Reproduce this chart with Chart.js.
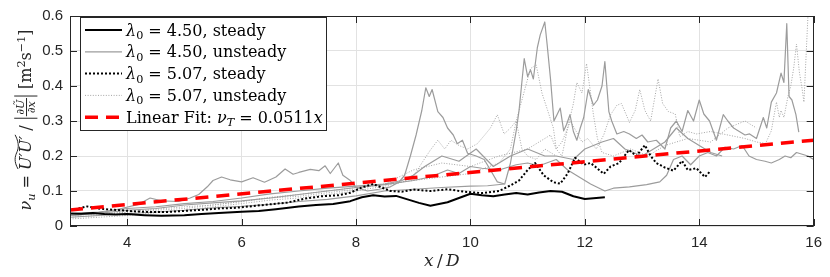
<!DOCTYPE html>
<html>
<head>
<meta charset="utf-8">
<script src="https://cdn.jsdelivr.net/npm/chart.js@4.4.1/dist/chart.umd.min.js"></script>
<style>
  html, body { margin: 0; padding: 0; background: #fff; }
  #wrap { width: 830px; height: 277px; }
</style>
</head>
<body>
<div id="wrap"><canvas id="chart" width="830" height="277"></canvas></div>
<script>
// axis ticks
const xTicks = [4, 6, 8, 10, 12, 14, 16];
const yTicks = [0, 0.1, 0.2, 0.3, 0.4, 0.5, 0.6];

// linear fit (end points)
const fitX = [3, 16];
const fitY = [0.046, 0.245];

// lambda0 = 4.50, steady
const xSteady450 = [3.0,3.2,3.4,3.6,3.8,4.0,4.3,4.6,5.0,5.3,5.6,6.0,6.3,6.6,7.0,7.3,7.6,7.9,8.1,8.3,8.5,8.7,8.9,9.1,9.3,9.45,9.6,9.8,10.0,10.2,10.4,10.6,10.8,11.0,11.2,11.4,11.6,11.8,12.0,12.2,12.35];
const ySteady450 = [0.036,0.035,0.037,0.034,0.033,0.034,0.031,0.029,0.031,0.034,0.037,0.041,0.043,0.048,0.056,0.06,0.063,0.071,0.082,0.088,0.084,0.086,0.076,0.066,0.058,0.063,0.068,0.08,0.092,0.088,0.085,0.09,0.094,0.09,0.096,0.1,0.098,0.085,0.077,0.08,0.082];

// lambda0 = 5.07, steady
const xSteady507 = [3.15,3.3,3.5,3.7,3.9,4.1,4.4,4.7,5.0,5.3,5.6,5.9,6.2,6.5,6.8,7.1,7.4,7.7,7.9,8.1,8.3,8.45,8.6,8.8,9.0,9.3,9.6,9.9,10.2,10.5,10.7,10.85,11.0,11.13,11.28,11.45,11.57,11.7,11.83,11.98,12.1,12.2,12.33,12.45,12.6,12.77,12.9,13.05,13.15,13.25,13.4,13.55,13.7,13.8,13.95,14.1,14.2];
const ySteady507 = [0.05,0.056,0.05,0.047,0.045,0.042,0.04,0.04,0.043,0.046,0.05,0.052,0.057,0.062,0.067,0.078,0.085,0.088,0.095,0.11,0.12,0.11,0.1,0.098,0.104,0.1,0.105,0.098,0.094,0.1,0.116,0.13,0.16,0.18,0.145,0.125,0.121,0.15,0.195,0.175,0.18,0.167,0.149,0.17,0.18,0.217,0.2,0.231,0.2,0.18,0.167,0.158,0.186,0.16,0.165,0.14,0.158];

// lambda0 = 4.50, unsteady (several runs)
const xUns450a = [3.0,3.3,3.6,3.9,4.2,4.4,4.6,4.9,5.1,5.25,5.4,5.5,5.65,5.8,6.0,6.2,6.4,6.6,6.76,6.9,7.0,7.2,7.35,7.46,7.55,7.69,7.77,7.9,8.0,8.2,8.4,8.6,8.75,8.85,8.95,9.05,9.15,9.22,9.28,9.33,9.43,9.52,9.6,9.7,9.77,9.86,9.95,10.1,10.24,10.35,10.47,10.6];
const yUns450a = [0.03,0.034,0.04,0.05,0.062,0.08,0.072,0.07,0.08,0.09,0.112,0.13,0.14,0.132,0.126,0.138,0.125,0.14,0.163,0.148,0.153,0.162,0.158,0.172,0.15,0.18,0.145,0.13,0.11,0.1,0.105,0.112,0.125,0.145,0.2,0.26,0.33,0.395,0.37,0.39,0.327,0.31,0.28,0.26,0.235,0.245,0.208,0.2,0.19,0.16,0.126,0.12];
const xUns450b = [3.0,3.5,4.0,4.5,5.0,5.5,6.0,6.5,7.0,7.5,8.0,8.5,9.0,9.5,10.0,10.3,10.6,10.7,10.8,10.85,10.94,11.0,11.05,11.1,11.17,11.22,11.3,11.34,11.4,11.46,11.52,11.57,11.63,11.68,11.74,11.8,11.86,11.92,11.98,12.06,12.15,12.22,12.3,12.35,12.42,12.47,12.56,12.68,12.78,12.9,13.0,13.1,13.25,13.4,13.5,13.6,13.7,13.8,13.9,14.0,14.08,14.18,14.3,14.42,14.5,14.6,14.7,14.8,14.88,15.0,15.12,15.18,15.26,15.35,15.43,15.48,15.53,15.57,15.62,15.69,15.74];
const yUns450b = [0.025,0.03,0.035,0.04,0.045,0.052,0.056,0.062,0.07,0.076,0.086,0.1,0.105,0.11,0.114,0.115,0.12,0.18,0.272,0.33,0.478,0.427,0.446,0.42,0.51,0.546,0.583,0.52,0.42,0.3,0.32,0.337,0.272,0.29,0.318,0.27,0.245,0.28,0.31,0.39,0.345,0.36,0.4,0.47,0.327,0.3,0.263,0.27,0.263,0.25,0.26,0.24,0.245,0.22,0.28,0.3,0.27,0.33,0.3,0.36,0.32,0.3,0.245,0.318,0.3,0.28,0.27,0.26,0.263,0.25,0.31,0.28,0.354,0.38,0.437,0.41,0.578,0.37,0.36,0.318,0.268];
const xUns450c = [3.0,3.5,4.0,4.5,5.0,5.5,6.0,6.5,7.0,7.5,8.0,8.5,9.0,9.3,9.6,9.8,10.0,10.2,10.5,10.8,11.0,11.2,11.5,11.7,11.9,12.1,12.35,12.5,12.78,13.08,13.31,13.43,13.55,13.7,13.85,14.0,14.15,14.3,14.45,14.6,14.75,14.87,15.0,15.15,15.26,15.4,15.5,15.6,15.7,15.8,15.9,16.0];
const yUns450c = [0.03,0.036,0.045,0.05,0.06,0.066,0.072,0.08,0.09,0.1,0.11,0.118,0.13,0.14,0.16,0.15,0.17,0.165,0.16,0.175,0.18,0.172,0.19,0.16,0.14,0.12,0.1,0.108,0.112,0.118,0.126,0.145,0.19,0.2,0.175,0.2,0.21,0.2,0.225,0.22,0.23,0.2,0.19,0.185,0.18,0.19,0.2,0.195,0.21,0.205,0.2,0.19];
const xUns450d = [3.0,3.5,4.0,4.5,5.0,5.5,6.0,6.5,7.0,7.5,8.0,8.5,8.8,9.0,9.2,9.5,9.8,10.1,10.4,10.7,11.0,11.3,11.5,11.8,12.0,12.3,12.5,12.7,13.0,13.2,13.4,13.6,13.8,14.0,14.2,14.4];
const yUns450d = [0.035,0.04,0.05,0.055,0.064,0.07,0.08,0.092,0.1,0.108,0.114,0.12,0.13,0.145,0.17,0.2,0.185,0.22,0.17,0.2,0.22,0.2,0.2,0.19,0.22,0.24,0.25,0.22,0.2,0.22,0.24,0.28,0.25,0.23,0.21,0.2];

// lambda0 = 5.07, unsteady (several runs)
const xUns507a = [3.0,3.5,4.0,4.5,5.0,5.5,6.0,6.5,7.0,7.5,8.0,8.5,8.8,9.0,9.15,9.3,9.43,9.55,9.66,9.8,9.95,10.12,10.25,10.35,10.47,10.59,10.7,10.8,10.9,11.0,11.15,11.3,11.5];
const yUns507a = [0.02,0.025,0.03,0.038,0.045,0.055,0.064,0.074,0.08,0.09,0.1,0.114,0.125,0.14,0.18,0.217,0.245,0.22,0.245,0.23,0.22,0.235,0.26,0.28,0.318,0.263,0.28,0.3,0.22,0.2,0.19,0.22,0.2];
const xUns507b = [3.0,3.5,4.0,4.5,5.0,5.5,6.0,6.5,7.0,7.5,8.0,8.5,9.0,9.5,10.0,10.5,10.7,10.8,10.9,11.0,11.05,11.15,11.25,11.35,11.45,11.5,11.6,11.75,11.85,11.95,12.05,12.2,12.33,12.45,12.56,12.64,12.78,12.88,12.96,13.05,13.15,13.28,13.36,13.46,13.58,13.66,13.8,13.95,14.2,14.5,14.8,15.0,15.16,15.26,15.35,15.4,15.43,15.48,15.55,15.6,15.65,15.7,15.75,15.8,15.83,15.9];
const yUns507b = [0.025,0.03,0.04,0.045,0.05,0.06,0.07,0.08,0.085,0.095,0.105,0.12,0.13,0.14,0.15,0.18,0.22,0.3,0.36,0.42,0.45,0.46,0.38,0.33,0.28,0.22,0.24,0.3,0.27,0.24,0.25,0.22,0.26,0.318,0.345,0.35,0.296,0.33,0.39,0.33,0.3,0.42,0.35,0.327,0.32,0.255,0.27,0.263,0.27,0.26,0.25,0.24,0.236,0.272,0.354,0.31,0.33,0.31,0.37,0.4,0.45,0.52,0.44,0.39,0.354,0.6];
const xUns507c = [3.0,3.5,4.0,4.5,5.0,5.5,6.0,6.5,7.0,7.5,8.0,8.5,9.0,9.5,10.0,10.5,11.0,11.2,11.4,11.5,11.6,11.7,11.8,11.86,11.95,12.03,12.1,12.15,12.22,12.3,12.5,12.8,13.1,13.4,13.8,14.2,14.5,14.8,15.0];
const yUns507c = [0.03,0.035,0.04,0.048,0.055,0.06,0.07,0.082,0.09,0.1,0.11,0.12,0.16,0.18,0.17,0.2,0.22,0.24,0.26,0.22,0.2,0.28,0.35,0.41,0.38,0.464,0.38,0.318,0.25,0.21,0.2,0.22,0.2,0.23,0.25,0.24,0.28,0.3,0.28];

const serif = "'DejaVu Serif', 'Liberation Serif', serif";
const sans = "'Liberation Sans', Arial, sans-serif";
const axisColor = '#262626';

const pts = (xs, ys) => xs.map((x, i) => ({ x: x, y: ys[i] }));

const greySolid = { borderColor: '#9c9c9c', borderWidth: 1.2, borderDash: [] };
const greyDot = { borderColor: '#a4a4a4', borderWidth: 1, borderDash: [1, 1.6] };

const datasets = [
    { key: 'fit', data: pts(fitX, fitY), borderColor: '#ff0000', borderWidth: 3.5, borderDash: [13, 8], order: 0 },
    { key: 's450', data: pts(xSteady450, ySteady450), borderColor: '#000000', borderWidth: 2, borderDash: [], order: 1 },
    { key: 's507', data: pts(xSteady507, ySteady507), borderColor: '#000000', borderWidth: 2, borderDash: [2, 2], order: 1 },
    { key: 'u450', data: pts(xUns450a, yUns450a), ...greySolid, order: 2 },
    { data: pts(xUns450b, yUns450b), ...greySolid, order: 2 },
    { data: pts(xUns450c, yUns450c), ...greySolid, order: 2 },
    { data: pts(xUns450d, yUns450d), ...greySolid, order: 2 },
    { key: 'u507', data: pts(xUns507a, yUns507a), ...greyDot, order: 2 },
    { data: pts(xUns507b, yUns507b), ...greyDot, order: 2 },
    { data: pts(xUns507c, yUns507c), ...greyDot, order: 2 },
];

// legend entries: dataset key + text runs
const legendEntries = [
    ['s450', [{ t: 'λ', it: true }, { t: '0', sub: true }, { t: ' = 4.50, steady' }]],
    ['u450', [{ t: 'λ', it: true }, { t: '0', sub: true }, { t: ' = 4.50, unsteady' }]],
    ['s507', [{ t: 'λ', it: true }, { t: '0', sub: true }, { t: ' = 5.07, steady' }]],
    ['u507', [{ t: 'λ', it: true }, { t: '0', sub: true }, { t: ' = 5.07, unsteady' }]],
    ['fit', [{ t: 'Linear Fit: ' }, { t: 'ν', it: true }, { t: 'T', it: true, sub: true }, { t: ' = 0.0511' }, { t: 'x', it: true }]],
];

const yLabelRuns = [
    { t: 'ν', it: true }, { t: 'u', it: true, sub: true }, { t: ' = ' },
    { t: 'U′U′', it: true, tilde: true }, { t: ' / ' },
    { bar: true }, { frac: ['∂Ũ', '∂x'] }, { bar: true },
    { t: ' [m' }, { t: '2', sup: true }, { t: 's' }, { t: '−1', sup: true }, { t: ']' }
];

function runs(ctx, list, size, x, y, draw) {
    let cx = x;
    list.forEach(r => {
        if (r.bar) {
            if (draw) {
                ctx.fillRect(cx + 1.5, y - size * 1.05, 1, size * 1.45);
            }
            cx += 4;
            return;
        }
        if (r.frac) {
            const fs = size * 0.7;
            ctx.font = `italic ${fs}px ${serif}`;
            const w = Math.max(ctx.measureText(r.frac[0]).width, ctx.measureText(r.frac[1]).width) + 3;
            if (draw) {
                const axis = y - size * 0.28;
                ctx.textAlign = 'center';
                ctx.fillText(r.frac[0], cx + w / 2, axis - 2.5);
                ctx.fillText(r.frac[1], cx + w / 2, axis + fs * 0.78);
                ctx.fillRect(cx, axis - 0.5, w, 1);
                ctx.textAlign = 'left';
            }
            cx += w;
            return;
        }
        const fs = (r.sub || r.sup) ? size * 0.7 : size;
        ctx.font = `${r.it ? 'italic ' : ''}${fs}px ${serif}`;
        const w = ctx.measureText(r.t).width;
        const dy = r.sub ? size * 0.22 : r.sup ? -size * 0.4 : 0;
        if (draw) {
            ctx.fillText(r.t, cx, y + dy);
            if (r.tilde) {
                const yt = y - size * 0.9;
                ctx.beginPath();
                ctx.moveTo(cx + 1, yt + 1.5);
                ctx.bezierCurveTo(cx + w * 0.25, yt - 3, cx + w * 0.4, yt - 1.5, cx + w * 0.5, yt);
                ctx.bezierCurveTo(cx + w * 0.6, yt + 1.5, cx + w * 0.75, yt + 3.5, cx + w + 1, yt - 1.5);
                ctx.lineWidth = 1;
                ctx.stroke();
            }
        }
        cx += w;
    });
    return cx - x;
}

const decorPlugin = {
    id: 'decor',
    afterDraw(chart) {
        const ctx = chart.ctx;
        const a = chart.chartArea;
        const xs = chart.scales.x, ys = chart.scales.y;
        ctx.save();

        // axes box + inward ticks
        ctx.strokeStyle = axisColor;
        ctx.lineWidth = 1;
        ctx.strokeRect(Math.round(a.left) + 0.5, Math.round(a.top) + 0.5, Math.round(a.right - a.left) - 1, Math.round(a.bottom - a.top) - 1);
        ctx.beginPath();
        xTicks.forEach(v => {
            const px = Math.round(xs.getPixelForValue(v)) + 0.5;
            ctx.moveTo(px, a.bottom); ctx.lineTo(px, a.bottom - 7);
            ctx.moveTo(px, a.top); ctx.lineTo(px, a.top + 7);
        });
        yTicks.forEach(v => {
            const py = Math.round(ys.getPixelForValue(v)) + 0.5;
            ctx.moveTo(a.left, py); ctx.lineTo(a.left + 7, py);
            ctx.moveTo(a.right, py); ctx.lineTo(a.right - 7, py);
        });
        ctx.stroke();

        // legend box
        const lx = 80.5, ly = 17.5, lw = 246, lh = 113;
        ctx.fillStyle = '#fff';
        ctx.fillRect(lx, ly, lw, lh);
        ctx.strokeStyle = axisColor;
        ctx.strokeRect(lx, ly, lw, lh);
        legendEntries.forEach(([key, list], i) => {
            const ds = chart.data.datasets.find(d => d.key === key);
            const cy = 30 + i * 21.8;
            ctx.save();
            ctx.strokeStyle = ds.borderColor;
            ctx.lineWidth = ds.borderWidth;
            ctx.setLineDash(ds.borderDash || []);
            ctx.beginPath();
            ctx.moveTo(85, cy); ctx.lineTo(122, cy);
            ctx.stroke();
            ctx.restore();
            ctx.fillStyle = '#000';
            runs(ctx, list, 16, 126, cy + 5.5, true);
        });

        // y axis title (rotated)
        ctx.fillStyle = axisColor;
        ctx.strokeStyle = axisColor;
        const size = 16;
        const w = runs(ctx, yLabelRuns, size, 0, 0, false);
        ctx.translate(31, 120);
        ctx.rotate(-Math.PI / 2);
        runs(ctx, yLabelRuns, size, -w / 2, 0, true);
        ctx.restore();

        // x axis title
        ctx.save();
        ctx.fillStyle = axisColor;
        const xl = [{ t: 'x', it: true }, { t: '\u2009/\u2009' }, { t: 'D', it: true }];
        const xw = runs(ctx, xl, 17, 0, 0, false);
        runs(ctx, xl, 17, (a.left + a.right) / 2 - xw / 2, 266, true);
        ctx.restore();
    }
};

new Chart(document.getElementById('chart'), {
    type: 'line',
    data: { datasets: datasets.map(d => ({ ...d, pointRadius: 0, tension: 0, fill: false, borderCapStyle: 'butt', borderJoinStyle: 'round' })) },
    options: {
        responsive: false,
        animation: false,
        layout: { autoPadding: false, padding: { top: 7, right: 12, left: 0, bottom: 0 } },
        plugins: { legend: { display: false }, tooltip: { enabled: false } },
        scales: {
            x: {
                type: 'linear', min: 3, max: 16,
                afterBuildTicks: s => { s.ticks = xTicks.map(v => ({ value: v })); },
                afterFit: s => { s.height = 51; },
                grid: { color: '#e2e2e2', lineWidth: 1, drawTicks: false },
                border: { display: false },
                ticks: { padding: 8, color: axisColor, font: { family: sans, size: 15 }, maxRotation: 0 }
            },
            y: {
                type: 'linear', min: 0, max: 0.6,
                afterBuildTicks: s => { s.ticks = yTicks.map(v => ({ value: v })); },
                afterFit: s => { s.width = 70; },
                grid: { color: '#e2e2e2', lineWidth: 1, drawTicks: false },
                border: { display: false },
                ticks: { padding: 7, color: axisColor, font: { family: sans, size: 15 }, callback: v => String(+v.toFixed(1)) }
            }
        }
    },
    plugins: [decorPlugin]
});
</script>
</body>
</html>
